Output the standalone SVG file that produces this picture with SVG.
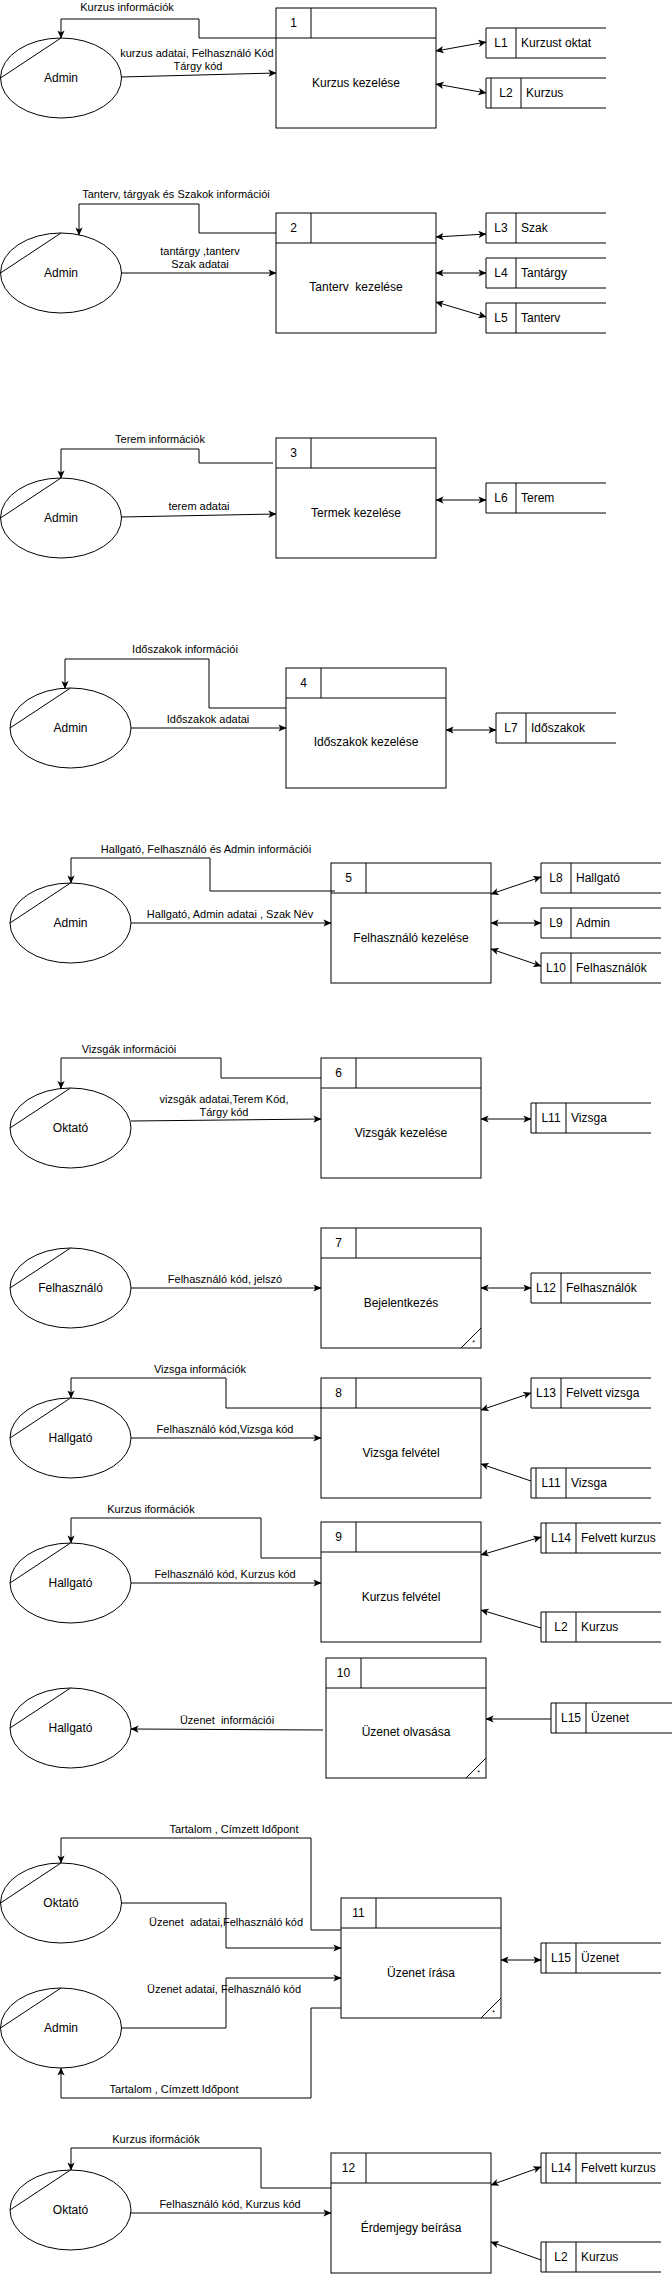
<svg xmlns="http://www.w3.org/2000/svg" width="672" height="2274" viewBox="0 0 672 2274">
<style>
text{font-family:"Liberation Sans",Arial,Helvetica,sans-serif;fill:#000;dominant-baseline:central;white-space:pre}
.n{font-size:12px;text-anchor:middle}
.s{font-size:12px;text-anchor:start}
.l{font-size:11px;text-anchor:middle}
.st{font-size:7px;text-anchor:middle}
rect,ellipse{fill:#fff;stroke:#000;stroke-width:1}
line,polyline{fill:none;stroke:#000;stroke-width:1}
.c line,.c polyline{marker-end:url(#a)}
.c .d{marker-start:url(#a)}
</style>
<defs>
<marker id="a" viewBox="0 0 10 10" refX="9.5" refY="5" markerWidth="8" markerHeight="8" markerUnits="userSpaceOnUse" orient="auto-start-reverse">
<path d="M0,0.5 L10,5 L0,9.5 L2.5,5 z" fill="#000"/>
</marker>
</defs>
<rect x="0" y="0" width="672" height="2274" style="fill:#fff;stroke:none"/>

<!-- Section 1 -->
<g id="p1"><rect x="276" y="8" width="160" height="120"/><line x1="276" y1="38" x2="436" y2="38"/><line x1="311" y1="8" x2="311" y2="38"/><text class="n" x="293.5" y="23">1</text><text class="n" x="356" y="83">Kurzus kezelése</text></g>
<g id="e1"><ellipse cx="61" cy="78" rx="60.5" ry="40"/><line x1="0.5" y1="78" x2="61" y2="38"/><text class="n" x="61" y="78">Admin</text></g>
<g id="L1"><line x1="486" y1="28" x2="606" y2="28"/><line x1="486" y1="58" x2="606" y2="58"/><line x1="486" y1="28" x2="486" y2="58"/><line x1="516" y1="28" x2="516" y2="58"/><text class="n" x="501" y="43">L1</text><text class="s" x="521" y="43">Kurzust oktat</text></g>
<g id="L2a"><line x1="486" y1="78" x2="606" y2="78"/><line x1="486" y1="108" x2="606" y2="108"/><line x1="486" y1="78" x2="486" y2="108"/><line x1="491" y1="78" x2="491" y2="108"/><line x1="521" y1="78" x2="521" y2="108"/><text class="n" x="506" y="93">L2</text><text class="s" x="526" y="93">Kurzus</text></g>

<!-- Section 2 -->
<g id="p2"><rect x="276" y="213" width="160" height="120"/><line x1="276" y1="243" x2="436" y2="243"/><line x1="311" y1="213" x2="311" y2="243"/><text class="n" x="293.5" y="228">2</text><text class="n" x="356" y="287">Tanterv  kezelése</text></g>
<g id="e2"><ellipse cx="61" cy="273" rx="60.5" ry="40"/><line x1="0.5" y1="273" x2="61" y2="233"/><text class="n" x="61" y="273">Admin</text></g>
<g id="L3"><line x1="486" y1="213" x2="606" y2="213"/><line x1="486" y1="243" x2="606" y2="243"/><line x1="486" y1="213" x2="486" y2="243"/><line x1="516" y1="213" x2="516" y2="243"/><text class="n" x="501" y="228">L3</text><text class="s" x="521" y="228">Szak</text></g>
<g id="L4"><line x1="486" y1="258" x2="606" y2="258"/><line x1="486" y1="288" x2="606" y2="288"/><line x1="486" y1="258" x2="486" y2="288"/><line x1="516" y1="258" x2="516" y2="288"/><text class="n" x="501" y="273">L4</text><text class="s" x="521" y="273">Tantárgy</text></g>
<g id="L5"><line x1="486" y1="303" x2="606" y2="303"/><line x1="486" y1="333" x2="606" y2="333"/><line x1="486" y1="303" x2="486" y2="333"/><line x1="516" y1="303" x2="516" y2="333"/><text class="n" x="501" y="318">L5</text><text class="s" x="521" y="318">Tanterv</text></g>

<!-- Section 3 -->
<g id="p3"><rect x="276" y="438" width="160" height="120"/><line x1="276" y1="468" x2="436" y2="468"/><line x1="311" y1="438" x2="311" y2="468"/><text class="n" x="293.5" y="453">3</text><text class="n" x="356" y="513">Termek kezelése</text></g>
<g id="e3"><ellipse cx="61" cy="518" rx="60.5" ry="40"/><line x1="0.5" y1="518" x2="61" y2="478"/><text class="n" x="61" y="518">Admin</text></g>
<g id="L6"><line x1="486" y1="483" x2="606" y2="483"/><line x1="486" y1="513" x2="606" y2="513"/><line x1="486" y1="483" x2="486" y2="513"/><line x1="516" y1="483" x2="516" y2="513"/><text class="n" x="501" y="498">L6</text><text class="s" x="521" y="498">Terem</text></g>

<!-- Section 4 -->
<g id="p4"><rect x="286" y="668" width="160" height="120"/><line x1="286" y1="698" x2="446" y2="698"/><line x1="321" y1="668" x2="321" y2="698"/><text class="n" x="303.5" y="683">4</text><text class="n" x="366" y="742">Időszakok kezelése</text></g>
<g id="e4"><ellipse cx="70.5" cy="728" rx="60.5" ry="40"/><line x1="10" y1="728" x2="70.5" y2="688"/><text class="n" x="70.5" y="728">Admin</text></g>
<g id="L7"><line x1="496" y1="713" x2="616" y2="713"/><line x1="496" y1="743" x2="616" y2="743"/><line x1="496" y1="713" x2="496" y2="743"/><line x1="526" y1="713" x2="526" y2="743"/><text class="n" x="511" y="728">L7</text><text class="s" x="531" y="728">Időszakok</text></g>

<!-- Section 5 -->
<g id="p5"><rect x="331" y="863" width="160" height="120"/><line x1="331" y1="893" x2="491" y2="893"/><line x1="366" y1="863" x2="366" y2="893"/><text class="n" x="348.5" y="878">5</text><text class="n" x="411" y="938">Felhasználó kezelése</text></g>
<g id="e5"><ellipse cx="70.5" cy="923" rx="60.5" ry="40"/><line x1="10" y1="923" x2="70.5" y2="883"/><text class="n" x="70.5" y="923">Admin</text></g>
<g id="L8"><line x1="541" y1="863" x2="661" y2="863"/><line x1="541" y1="893" x2="661" y2="893"/><line x1="541" y1="863" x2="541" y2="893"/><line x1="571" y1="863" x2="571" y2="893"/><text class="n" x="556" y="878">L8</text><text class="s" x="576" y="878">Hallgató</text></g>
<g id="L9"><line x1="541" y1="908" x2="661" y2="908"/><line x1="541" y1="938" x2="661" y2="938"/><line x1="541" y1="908" x2="541" y2="938"/><line x1="571" y1="908" x2="571" y2="938"/><text class="n" x="556" y="923">L9</text><text class="s" x="576" y="923">Admin</text></g>
<g id="L10"><line x1="541" y1="953" x2="661" y2="953"/><line x1="541" y1="983" x2="661" y2="983"/><line x1="541" y1="953" x2="541" y2="983"/><line x1="571" y1="953" x2="571" y2="983"/><text class="n" x="556" y="968">L10</text><text class="s" x="576" y="968">Felhasználók</text></g>

<!-- Section 6 -->
<g id="p6"><rect x="321" y="1058" width="160" height="120"/><line x1="321" y1="1088" x2="481" y2="1088"/><line x1="356" y1="1058" x2="356" y2="1088"/><text class="n" x="338.5" y="1073">6</text><text class="n" x="401" y="1133">Vizsgák kezelése</text></g>
<g id="e6"><ellipse cx="70.5" cy="1128" rx="60.5" ry="40"/><line x1="10" y1="1128" x2="70.5" y2="1088"/><text class="n" x="70.5" y="1128">Oktató</text></g>
<g id="L11a"><line x1="531" y1="1103" x2="651" y2="1103"/><line x1="531" y1="1133" x2="651" y2="1133"/><line x1="531" y1="1103" x2="531" y2="1133"/><line x1="536" y1="1103" x2="536" y2="1133"/><line x1="566" y1="1103" x2="566" y2="1133"/><text class="n" x="551" y="1118">L11</text><text class="s" x="571" y="1118">Vizsga</text></g>

<!-- Section 7 -->
<g id="p7"><rect x="321" y="1228" width="160" height="120"/><line x1="321" y1="1258" x2="481" y2="1258"/><line x1="356" y1="1228" x2="356" y2="1258"/><line x1="461" y1="1348" x2="481" y2="1328"/><text class="st" x="473.5" y="1342">*</text><text class="n" x="338.5" y="1243">7</text><text class="n" x="401" y="1303">Bejelentkezés</text></g>
<g id="e7"><ellipse cx="70.5" cy="1288" rx="60.5" ry="40"/><line x1="10" y1="1288" x2="70.5" y2="1248"/><text class="n" x="70.5" y="1288">Felhasználó</text></g>
<g id="L12"><line x1="531" y1="1273" x2="651" y2="1273"/><line x1="531" y1="1303" x2="651" y2="1303"/><line x1="531" y1="1273" x2="531" y2="1303"/><line x1="561" y1="1273" x2="561" y2="1303"/><text class="n" x="546" y="1288">L12</text><text class="s" x="566" y="1288">Felhasználók</text></g>

<!-- Section 8 -->
<g id="p8"><rect x="321" y="1378" width="160" height="120"/><line x1="321" y1="1408" x2="481" y2="1408"/><line x1="356" y1="1378" x2="356" y2="1408"/><text class="n" x="338.5" y="1393">8</text><text class="n" x="401" y="1453">Vizsga felvétel</text></g>
<g id="e8"><ellipse cx="70.5" cy="1438" rx="60.5" ry="40"/><line x1="10" y1="1438" x2="70.5" y2="1398"/><text class="n" x="70.5" y="1438">Hallgató</text></g>
<g id="L13"><line x1="531" y1="1378" x2="651" y2="1378"/><line x1="531" y1="1408" x2="651" y2="1408"/><line x1="531" y1="1378" x2="531" y2="1408"/><line x1="561" y1="1378" x2="561" y2="1408"/><text class="n" x="546" y="1393">L13</text><text class="s" x="566" y="1393">Felvett vizsga</text></g>
<g id="L11b"><line x1="531" y1="1468" x2="651" y2="1468"/><line x1="531" y1="1498" x2="651" y2="1498"/><line x1="531" y1="1468" x2="531" y2="1498"/><line x1="536" y1="1468" x2="536" y2="1498"/><line x1="566" y1="1468" x2="566" y2="1498"/><text class="n" x="551" y="1483">L11</text><text class="s" x="571" y="1483">Vizsga</text></g>

<!-- Section 9 -->
<g id="p9"><rect x="321" y="1522" width="160" height="120"/><line x1="321" y1="1552" x2="481" y2="1552"/><line x1="356" y1="1522" x2="356" y2="1552"/><text class="n" x="338.5" y="1537">9</text><text class="n" x="401" y="1597">Kurzus felvétel</text></g>
<g id="e9"><ellipse cx="70.5" cy="1583" rx="60.5" ry="40"/><line x1="10" y1="1583" x2="70.5" y2="1543"/><text class="n" x="70.5" y="1583">Hallgató</text></g>
<g id="L14a"><line x1="541" y1="1523" x2="661" y2="1523"/><line x1="541" y1="1553" x2="661" y2="1553"/><line x1="541" y1="1523" x2="541" y2="1553"/><line x1="546" y1="1523" x2="546" y2="1553"/><line x1="576" y1="1523" x2="576" y2="1553"/><text class="n" x="561" y="1538">L14</text><text class="s" x="581" y="1538">Felvett kurzus</text></g>
<g id="L2b"><line x1="541" y1="1612" x2="661" y2="1612"/><line x1="541" y1="1642" x2="661" y2="1642"/><line x1="541" y1="1612" x2="541" y2="1642"/><line x1="546" y1="1612" x2="546" y2="1642"/><line x1="576" y1="1612" x2="576" y2="1642"/><text class="n" x="561" y="1627">L2</text><text class="s" x="581" y="1627">Kurzus</text></g>

<!-- Section 10 -->
<g id="p10"><rect x="326" y="1658" width="160" height="120"/><line x1="326" y1="1688" x2="486" y2="1688"/><line x1="361" y1="1658" x2="361" y2="1688"/><line x1="466" y1="1778" x2="486" y2="1758"/><text class="st" x="478.5" y="1772">*</text><text class="n" x="343.5" y="1673">10</text><text class="n" x="406" y="1732">Üzenet olvasása</text></g>
<g id="e10"><ellipse cx="70.5" cy="1728" rx="60.5" ry="40"/><line x1="10" y1="1728" x2="70.5" y2="1688"/><text class="n" x="70.5" y="1728">Hallgató</text></g>
<g id="L15a"><line x1="551" y1="1703" x2="672" y2="1703"/><line x1="551" y1="1733" x2="672" y2="1733"/><line x1="551" y1="1703" x2="551" y2="1733"/><line x1="556" y1="1703" x2="556" y2="1733"/><line x1="586" y1="1703" x2="586" y2="1733"/><text class="n" x="571" y="1718">L15</text><text class="s" x="591" y="1718">Üzenet</text></g>

<!-- Section 11 -->
<g id="p11"><rect x="341" y="1898" width="160" height="120"/><line x1="341" y1="1928" x2="501" y2="1928"/><line x1="376" y1="1898" x2="376" y2="1928"/><line x1="481" y1="2018" x2="501" y2="1998"/><text class="st" x="493.5" y="2012">*</text><text class="n" x="358.5" y="1913">11</text><text class="n" x="421" y="1973">Üzenet írása</text></g>
<g id="e11a"><ellipse cx="61" cy="1903" rx="60.5" ry="40"/><line x1="0.5" y1="1903" x2="61" y2="1863"/><text class="n" x="61" y="1903">Oktató</text></g>
<g id="e11b"><ellipse cx="61" cy="2028" rx="60.5" ry="40"/><line x1="0.5" y1="2028" x2="61" y2="1988"/><text class="n" x="61" y="2028">Admin</text></g>
<g id="L15b"><line x1="541" y1="1943" x2="661" y2="1943"/><line x1="541" y1="1973" x2="661" y2="1973"/><line x1="541" y1="1943" x2="541" y2="1973"/><line x1="546" y1="1943" x2="546" y2="1973"/><line x1="576" y1="1943" x2="576" y2="1973"/><text class="n" x="561" y="1958">L15</text><text class="s" x="581" y="1958">Üzenet</text></g>

<!-- Section 12 -->
<g id="p12"><rect x="331" y="2153" width="160" height="120"/><line x1="331" y1="2183" x2="491" y2="2183"/><line x1="366" y1="2153" x2="366" y2="2183"/><text class="n" x="348.5" y="2168">12</text><text class="n" x="411" y="2228">Érdemjegy beírása</text></g>
<g id="e12"><ellipse cx="70.5" cy="2210" rx="60.5" ry="40"/><line x1="10" y1="2210" x2="70.5" y2="2170"/><text class="n" x="70.5" y="2210">Oktató</text></g>
<g id="L14b"><line x1="541" y1="2153" x2="661" y2="2153"/><line x1="541" y1="2183" x2="661" y2="2183"/><line x1="541" y1="2153" x2="541" y2="2183"/><line x1="546" y1="2153" x2="546" y2="2183"/><line x1="576" y1="2153" x2="576" y2="2183"/><text class="n" x="561" y="2168">L14</text><text class="s" x="581" y="2168">Felvett kurzus</text></g>
<g id="L2c"><line x1="541" y1="2242" x2="661" y2="2242"/><line x1="541" y1="2272" x2="661" y2="2272"/><line x1="541" y1="2242" x2="541" y2="2272"/><line x1="546" y1="2242" x2="546" y2="2272"/><line x1="576" y1="2242" x2="576" y2="2272"/><text class="n" x="561" y="2257">L2</text><text class="s" x="581" y="2257">Kurzus</text></g>

<!-- Connectors -->
<g id="connectors" class="c">
<polyline points="276,38 199,38 199,19 61,19 61,38"/>
<line x1="121" y1="77" x2="276" y2="73"/>
<line class="d" x1="436" y1="51" x2="486" y2="42"/>
<line class="d" x1="436" y1="84" x2="486" y2="93"/>
<text class="l" x="127" y="7">Kurzus információk</text>
<text class="l" x="197" y="53">kurzus adatai, Felhasználó Kód</text>
<text class="l" x="198" y="66">Tárgy kód</text>

<polyline points="276,233 199,233 199,204 79,204 79,235"/>
<line x1="121" y1="273" x2="276" y2="273"/>
<line class="d" x1="436" y1="237" x2="486" y2="234"/>
<line class="d" x1="436" y1="273" x2="486" y2="273"/>
<line class="d" x1="436" y1="302" x2="486" y2="317"/>
<text class="l" x="176" y="194">Tanterv, tárgyak és Szakok információi</text>
<text class="l" x="200" y="251">tantárgy ,tanterv</text>
<text class="l" x="200" y="264">Szak adatai</text>

<polyline points="273,463 199,463 199,449 61,449 61,478"/>
<line x1="121" y1="517" x2="276" y2="514"/>
<line class="d" x1="436" y1="500" x2="486" y2="500"/>
<text class="l" x="160" y="439">Terem információk</text>
<text class="l" x="199" y="506">terem adatai</text>

<polyline points="286,708 209,708 209,659 65,659 65,688.5"/>
<line x1="131" y1="728" x2="286" y2="728"/>
<line class="d" x1="446" y1="730" x2="496" y2="730"/>
<text class="l" x="185" y="649">Időszakok információi</text>
<text class="l" x="208" y="719">Időszakok adatai</text>

<polyline points="335,891 210,891 210,858 71,858 71,883"/>
<line x1="131" y1="923" x2="331" y2="923"/>
<line class="d" x1="491" y1="894" x2="541" y2="877"/>
<line class="d" x1="491" y1="923" x2="541" y2="923"/>
<line class="d" x1="491" y1="949" x2="541" y2="966"/>
<text class="l" x="206" y="849">Hallgató, Felhasználó és Admin információi</text>
<text class="l" x="230" y="914">Hallgató, Admin adatai , Szak Név</text>

<polyline points="321,1078 221,1078 221,1058 61,1058 61,1088.5"/>
<line x1="131" y1="1121" x2="321" y2="1119"/>
<line class="d" x1="481" y1="1119" x2="531" y2="1119"/>
<text class="l" x="129" y="1049">Vizsgák információi</text>
<text class="l" x="224" y="1099">vizsgák adatai,Terem Kód,</text>
<text class="l" x="224" y="1112">Tárgy kód</text>

<line x1="131" y1="1288" x2="321" y2="1288"/>
<line class="d" x1="481" y1="1288" x2="531" y2="1288"/>
<text class="l" x="225" y="1279">Felhasználó kód, jelszó</text>

<polyline points="321,1408 226,1408 226,1378 71,1378 71,1398"/>
<line x1="131" y1="1438" x2="321" y2="1438"/>
<line class="d" x1="481" y1="1410" x2="531" y2="1393"/>
<line x1="531" y1="1481" x2="481" y2="1464"/>
<text class="l" x="200" y="1369">Vizsga információk</text>
<text class="l" x="225" y="1429">Felhasználó kód,Vizsga kód</text>

<polyline points="321,1558 261,1558 261,1518 71,1518 71,1543"/>
<line x1="131" y1="1583" x2="321" y2="1583"/>
<line class="d" x1="481" y1="1555" x2="541" y2="1537"/>
<line x1="541" y1="1628" x2="481" y2="1610"/>
<text class="l" x="151" y="1509">Kurzus iformációk</text>
<text class="l" x="225" y="1574">Felhasználó kód, Kurzus kód</text>

<line x1="323" y1="1730" x2="131" y2="1729"/>
<line x1="551" y1="1719" x2="486" y2="1719"/>
<text class="l" x="227" y="1720">Üzenet  információi</text>

<polyline points="341,1930 311,1930 311,1838 61,1838 61,1863"/>
<polyline points="121,1903 226,1903 226,1948 341,1948"/>
<polyline points="121,2028 226,2028 226,1978 341,1978"/>
<polyline points="341,2008 311,2008 311,2098 61,2098 61,2068"/>
<line class="d" x1="501" y1="1960" x2="541" y2="1960"/>
<text class="l" x="234" y="1829">Tartalom , Címzett Időpont</text>
<text class="l" x="226" y="1922">Üzenet  adatai,Felhasználó kód</text>
<text class="l" x="224" y="1989">Üzenet adatai, Felhasználó kód</text>
<text class="l" x="174" y="2089">Tartalom , Címzett Időpont</text>

<polyline points="331,2188 261,2188 261,2148 71,2148 71,2170"/>
<line x1="131" y1="2213" x2="331" y2="2213"/>
<line class="d" x1="491" y1="2185" x2="541" y2="2167"/>
<line x1="541" y1="2260" x2="491" y2="2242"/>
<text class="l" x="156" y="2139">Kurzus iformációk</text>
<text class="l" x="230" y="2204">Felhasználó kód, Kurzus kód</text>
</g>
</svg>
